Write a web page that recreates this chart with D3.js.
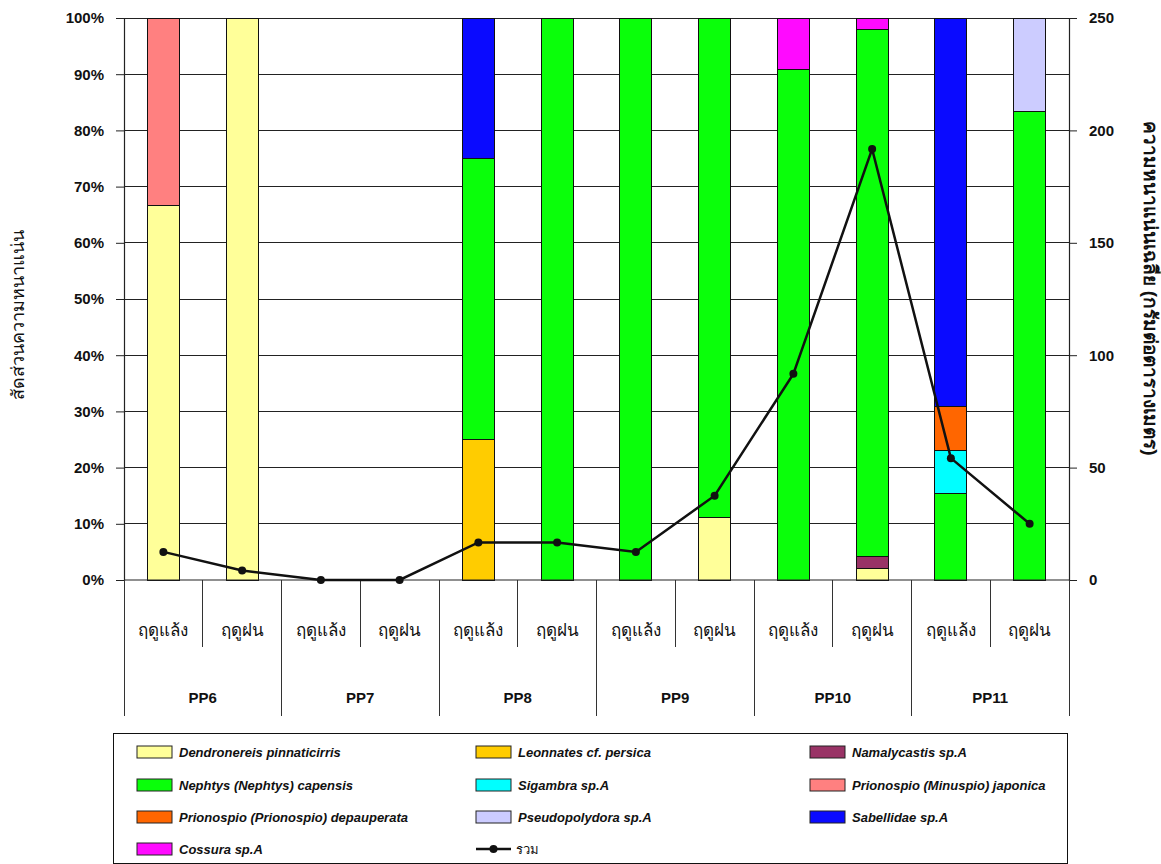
<!DOCTYPE html>
<html>
<head>
<meta charset="utf-8">
<script src="https://cdn.jsdelivr.net/npm/d3@7"></script>
<style>
  body { margin: 0; background: #fff; }
  svg { display: block; }
  text { font-family: Arial, "Liberation Sans", "Noto Sans", sans-serif; }
</style>
</head>
<body>
<svg id="chart" width="1161" height="864"></svg>
<script>
// Stations and seasons
const stations = ["PP6", "PP7", "PP8", "PP9", "PP10", "PP11"];
const seasons = ["ฤดูแล้ง", "ฤดูฝน"];

// Species proportions (%), per station/season in order PP6 dry, PP6 wet, PP7 dry, ...
const dendronereis   = [66.7, 100, 0, 0,  0,   0,   0, 11.1,  0,    2.1,  0,    0];
const leonnates      = [0,    0,   0, 0, 25,   0,   0,  0,    0,    0,    0,    0];
const namalycastis   = [0,    0,   0, 0,  0,   0,   0,  0,    0,    2.1,  0,    0];
const nephtys        = [0,    0,   0, 0, 50, 100, 100, 88.9, 90.9, 93.7, 15.4, 83.3];
const sigambra       = [0,    0,   0, 0,  0,   0,   0,  0,    0,    0,    7.7,  0];
const prioJaponica   = [33.3, 0,   0, 0,  0,   0,   0,  0,    0,    0,    0,    0];
const prioDepauper   = [0,    0,   0, 0,  0,   0,   0,  0,    0,    0,    7.7,  0];
const pseudopolydora = [0,    0,   0, 0,  0,   0,   0,  0,    0,    0,    0,   16.7];
const sabellidae     = [0,    0,   0, 0, 25,   0,   0,  0,    0,    0,   69.2,  0];
const cossura        = [0,    0,   0, 0,  0,   0,   0,  0,    9.1,  2.1,  0,    0];

// Total mean density (right axis)
const totalDensity = [12.5, 4.2, 0, 0, 16.7, 16.7, 12.5, 37.5, 91.7, 191.7, 54.2, 25];

const leftTicks = [0, 10, 20, 30, 40, 50, 60, 70, 80, 90, 100];
const rightTicks = [0, 50, 100, 150, 200, 250];

const seriesNames = [
  "Dendronereis pinnaticirris", "Leonnates cf. persica", "Namalycastis sp.A",
  "Nephtys (Nephtys) capensis", "Sigambra sp.A", "Prionospio (Minuspio) japonica",
  "Prionospio (Prionospio) depauperata", "Pseudopolydora sp.A", "Sabellidae sp.A",
  "Cossura sp.A"
];
const seriesValues = [dendronereis, leonnates, namalycastis, nephtys, sigambra,
  prioJaponica, prioDepauper, pseudopolydora, sabellidae, cossura];
const seriesColors = ["#FFFF99", "#FFCC00", "#993366", "#0AFF0A", "#00FFFF",
  "#FF8080", "#FF6600", "#CCCCFF", "#0A0AFF", "#FF0AFF"];
const totalLabel = "รวม";

const svg = d3.select("#chart");
const plotL = 124, plotR = 1069, plotT = 18, plotB = 580;

const cats = [];
stations.forEach(s => seasons.forEach(se => cats.push(s + "|" + se)));

const x = d3.scaleBand().domain(cats).range([plotL, plotR]).paddingInner(0).paddingOuter(0);
const xs = d3.scaleBand().domain(stations).range([plotL, plotR]);
const yL = d3.scaleLinear().domain([0, 100]).range([plotB, plotT]);
const yR = d3.scaleLinear().domain([0, 250]).range([plotB, plotT]);

// Gridlines
svg.append("g").selectAll("line").data(leftTicks.filter(d => d > 0)).join("line")
  .attr("x1", plotL).attr("x2", plotR)
  .attr("y1", d => yL(d)).attr("y2", d => yL(d))
  .attr("stroke", "#222").attr("stroke-width", 1).attr("shape-rendering", "crispEdges");

// Stacked bars
const rows = cats.map((c, i) => {
  const r = { cat: c };
  seriesNames.forEach((n, k) => r[n] = seriesValues[k][i]);
  return r;
});
const stack = d3.stack().keys(seriesNames)(rows);
const barW = 32;
const gBars = svg.append("g");
stack.forEach((layer, k) => {
  gBars.selectAll(null).data(layer.filter(d => d[1] - d[0] > 0)).join("rect")
    .attr("x", d => x(d.data.cat) + x.bandwidth() / 2 - barW / 2)
    .attr("width", barW)
    .attr("y", d => yL(d[1]))
    .attr("height", d => yL(d[0]) - yL(d[1]))
    .attr("fill", seriesColors[k])
    .attr("stroke", "#111").attr("stroke-width", 1)
    .attr("shape-rendering", "crispEdges");
});

// Axes
const axL = d3.axisLeft(yL).tickValues(leftTicks).tickFormat(d => d + "%").tickSize(8).tickPadding(12);
const gL = svg.append("g").attr("transform", `translate(${plotL},0)`).call(axL);
const axR = d3.axisRight(yR).tickValues(rightTicks).tickSize(8).tickPadding(12);
const gR = svg.append("g").attr("transform", `translate(${plotR},0)`).call(axR);
[gL, gR].forEach(g => {
  g.selectAll("path.domain").attr("stroke", "#222").attr("stroke-width", 1.2);
  g.selectAll(".tick line").attr("stroke", "#222");
  g.selectAll(".tick text").attr("font-size", 15).attr("font-weight", "bold")
    .attr("fill", "#111").attr("font-family", "Arial, 'Liberation Sans', sans-serif");
});
svg.append("line").attr("x1", plotL).attr("x2", plotR).attr("y1", plotB).attr("y2", plotB)
  .attr("stroke", "#222").attr("stroke-width", 1.2);

// Category axis: season separators and station separators
const gC = svg.append("g");
cats.forEach((c, i) => {
  if (i % 2 === 1) {
    const xx = x(c);
    gC.append("line").attr("x1", xx).attr("x2", xx).attr("y1", plotB).attr("y2", 647)
      .attr("stroke", "#333").attr("shape-rendering", "crispEdges");
  }
});
stations.concat(["__end"]).forEach((s, i) => {
  const xx = i < stations.length ? xs(s) : plotR;
  gC.append("line").attr("x1", xx).attr("x2", xx).attr("y1", plotB).attr("y2", 716)
    .attr("stroke", "#333").attr("shape-rendering", "crispEdges");
});
gC.selectAll("text.season").data(cats).join("text")
  .attr("class", "season")
  .attr("x", d => x(d) + x.bandwidth() / 2)
  .attr("y", 636)
  .attr("text-anchor", "middle")
  .attr("font-size", 17)
  .attr("fill", "#111")
  .text(d => d.split("|")[1]);
gC.selectAll("text.station").data(stations).join("text")
  .attr("class", "station")
  .attr("x", d => xs(d) + xs.bandwidth() / 2)
  .attr("y", 703)
  .attr("text-anchor", "middle")
  .attr("font-size", 15).attr("font-weight", "bold")
  .attr("fill", "#111")
  .text(d => d);

// Total density line
const line = d3.line().x((d, i) => x(cats[i]) + x.bandwidth() / 2).y(d => yR(d));
svg.append("path").datum(totalDensity).attr("d", line)
  .attr("fill", "none").attr("stroke", "#111").attr("stroke-width", 2.5);
svg.append("g").selectAll("circle").data(totalDensity).join("circle")
  .attr("cx", (d, i) => x(cats[i]) + x.bandwidth() / 2)
  .attr("cy", d => yR(d)).attr("r", 4).attr("fill", "#111");

// Axis titles
svg.append("text")
  .attr("transform", "translate(24,315) rotate(-90)")
  .attr("text-anchor", "middle").attr("font-size", 18).attr("fill", "#111")
  .text("สัดส่วนความหนาแน่น");
svg.append("text")
  .attr("transform", "translate(1144,288) rotate(90)")
  .attr("text-anchor", "middle").attr("font-size", 19).attr("font-weight", "bold").attr("fill", "#111")
  .text("ความหนาแน่นเฉลี่ย (กรัมต่อตารางเมตร)");

// Legend
const gLeg = svg.append("g");
gLeg.append("rect").attr("x", 113.5).attr("y", 733.5).attr("width", 954).attr("height", 130)
  .attr("fill", "none").attr("stroke", "#111").attr("stroke-width", 1);
const colX = [137, 476, 810];
const rowY = [752, 785, 817, 849];
seriesNames.forEach((n, k) => {
  const cx = colX[k % 3], cy = rowY[Math.floor(k / 3)];
  gLeg.append("rect").attr("x", cx).attr("y", cy - 6).attr("width", 35).attr("height", 12)
    .attr("fill", seriesColors[k]).attr("stroke", "#222").attr("stroke-width", 1);
  gLeg.append("text").attr("x", cx + 42).attr("y", cy + 5)
    .attr("font-size", 13).attr("font-style", "italic").attr("font-weight", "bold").attr("fill", "#111")
    .text(n);
});
{
  const k = seriesNames.length;
  const cx = colX[k % 3], cy = rowY[Math.floor(k / 3)];
  gLeg.append("line").attr("x1", cx).attr("x2", cx + 35).attr("y1", cy).attr("y2", cy)
    .attr("stroke", "#111").attr("stroke-width", 2.5);
  gLeg.append("circle").attr("cx", cx + 17.5).attr("cy", cy).attr("r", 4).attr("fill", "#111");
  gLeg.append("text").attr("x", cx + 40).attr("y", cy + 5)
    .attr("font-size", 13).attr("fill", "#111").text(totalLabel);
}
</script>
</body>
</html>
